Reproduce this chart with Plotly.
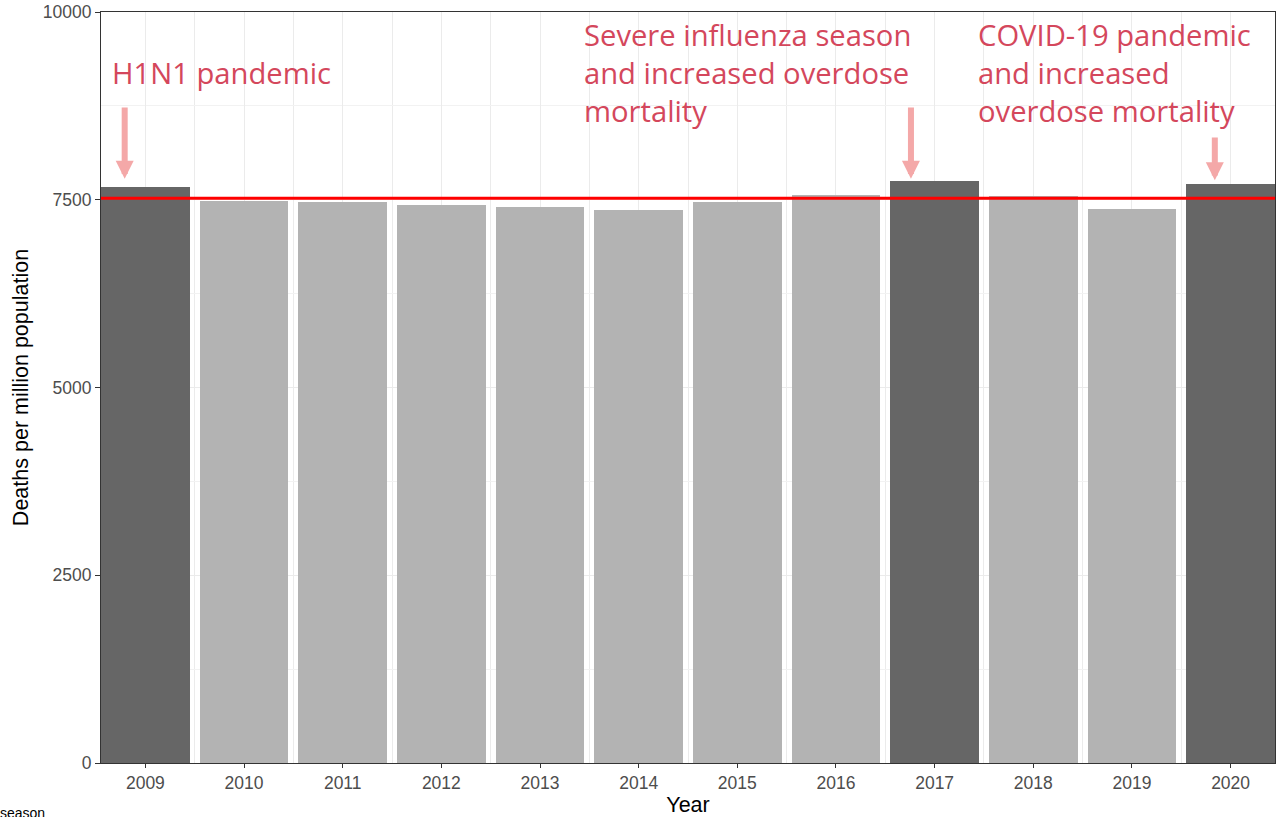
import plotly.graph_objects as go

# ---- data ----
years = [2009, 2010, 2011, 2012, 2013, 2014, 2015, 2016, 2017, 2018, 2019, 2020]
deaths_per_million = [7670, 7490, 7465, 7435, 7400, 7360, 7475, 7565, 7750, 7550, 7380, 7710]
season = ["atypical", "typical", "typical", "typical", "typical", "typical",
          "typical", "typical", "atypical", "typical", "typical", "atypical"]
baseline = 7520
y_ticks = [0, 2500, 5000, 7500, 10000]

season_colors = {"atypical": "#666666", "typical": "#b3b3b3"}

notes = [
    "H1N1 pandemic",
    "Severe influenza season<br>and increased overdose<br>mortality",
    "COVID-19 pandemic<br>and increased<br>overdose mortality",
]
note_x = [2008.64, 2013.43, 2017.42]
note_y = [9190, 9190, 9190]
arrow_x = [2008.79, 2016.76, 2019.84]
arrow_from = [8750, 8750, 8350]
arrow_to = [7780, 7780, 7760]

TEXT_RED = "#d4475c"
ARROW_PINK = "#f4a8a8"
SANS = "Liberation Sans, Arial"

fig = go.Figure()
fig.add_trace(go.Bar(
    x=years,
    y=deaths_per_million,
    width=0.9,
    marker=dict(color=[season_colors[s] for s in season], line=dict(width=0)),
    showlegend=False,
))

fig.add_hline(y=baseline, line=dict(color="#ff0000", width=3), layer="above")

annotations = []
for t, x, y in zip(notes, note_x, note_y):
    annotations.append(dict(
        x=x, y=y, xref="x", yref="y", text=t, showarrow=False,
        xanchor="left", yanchor="middle", align="left",
        font=dict(family="Open Sans", size=29.2, color=TEXT_RED),
    ))
for x, y0, y1 in zip(arrow_x, arrow_from, arrow_to):
    annotations.append(dict(
        x=x, y=y1, ax=x, ay=y0, xref="x", yref="y", axref="x", ayref="y",
        text="", showarrow=True, arrowhead=2, arrowsize=0.6, arrowwidth=6,
        arrowcolor=ARROW_PINK, standoff=0,
    ))
annotations.append(dict(
    x=0, y=0, xref="paper", yref="paper", xanchor="left", yanchor="top",
    xshift=-103, yshift=-40, text="season", showarrow=False,
    font=dict(family=SANS, size=14, color="#000000"),
))

fig.update_layout(
    width=1280, height=817,
    margin=dict(l=101, r=5, t=12, b=54, autoexpand=False),
    plot_bgcolor="white", paper_bgcolor="white",
    bargap=0,
    annotations=annotations,
    font=dict(family=SANS),
)
fig.update_xaxes(
    automargin=False,
    range=[2008.55, 2020.45],
    tickvals=years, ticktext=[str(y) for y in years],
    ticks="outside", ticklen=4, tickcolor="#333333", tickwidth=1,
    tickfont=dict(family=SANS, size=17.5, color="#4d4d4d"),
    showgrid=True, gridcolor="#ebebeb", gridwidth=1,
    minor=dict(dtick=0.5, tick0=2008.5, showgrid=True, gridcolor="#ebebeb", gridwidth=1, ticks=""),
    showline=True, linecolor="#333333", linewidth=1, mirror=True,
    zeroline=False,
    title=dict(text="Year", font=dict(family=SANS, size=21.5, color="#000000"), standoff=4),
)
fig.update_yaxes(
    automargin=False,
    range=[0, 10000],
    tickvals=y_ticks, ticktext=[str(v) for v in y_ticks],
    ticks="outside", ticklen=5, tickcolor="#333333", tickwidth=1,
    tickfont=dict(family=SANS, size=17.5, color="#4d4d4d"),
    showgrid=True, gridcolor="#ebebeb", gridwidth=1,
    minor=dict(dtick=1250, tick0=0, showgrid=True, gridcolor="#f2f2f2", gridwidth=1, ticks=""),
    showline=True, linecolor="#333333", linewidth=1, mirror=True,
    zeroline=False,
    title=dict(text="Deaths per million population", font=dict(family=SANS, size=21.5, color="#000000"), standoff=8),
)

post = ("document.body.style.margin='0';"
        "document.body.style.padding='0';"
        "document.body.style.overflow='hidden';"
        "Plotly.Plots.resize(document.getElementById('{plot_id}'));")
fig.write_html("out.html", post_script=post,
               config={"responsive": False, "displayModeBar": False})
